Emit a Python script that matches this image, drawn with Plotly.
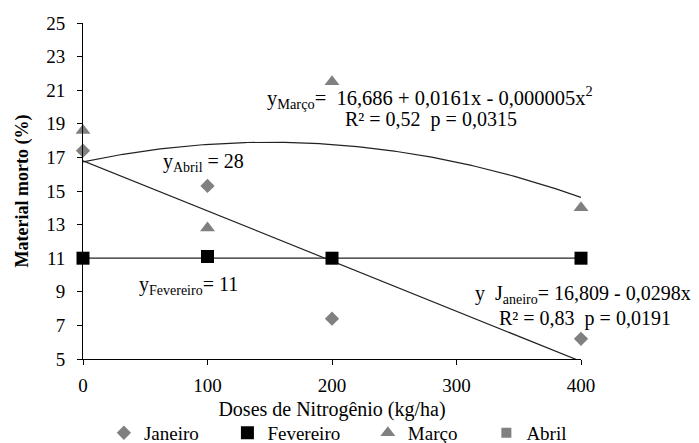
import numpy as np
import plotly.graph_objects as go

doses = [0, 100, 200, 400]
janeiro = [17.4, 15.3, 7.4, 6.2]
fevereiro = [11.0, 11.1, 11.0, 11.0]
marco = [18.6, 12.8, 21.5, 14.0]
abril = []
x_ticks = [0, 100, 200, 300, 400]
y_ticks = [5, 7, 9, 11, 13, 15, 17, 19, 21, 23, 25]

FONT = "Liberation Serif, Times New Roman, serif"
GRAY = "#808080"

xs = np.linspace(0, 400, 201)
jan_fit = np.polyval(np.polyfit(doses, janeiro, 1), xs)
mar_fit = np.polyval(np.polyfit(doses, marco, 2), xs)
fev_fit = np.full_like(xs, 11.0)

fig = go.Figure()
line_style = dict(color="#222222", width=1.2)
for yy in (mar_fit, jan_fit, fev_fit):
    fig.add_trace(go.Scatter(x=xs, y=yy, mode="lines", line=line_style,
                             showlegend=False, hoverinfo="skip"))

fig.add_trace(go.Scatter(x=doses, y=janeiro, mode="markers", name="Janeiro",
                         marker=dict(symbol="diamond", size=11, color=GRAY),
                         cliponaxis=False, legend="legend"))
fig.add_trace(go.Scatter(x=doses, y=fevereiro, mode="markers", name="Fevereiro",
                         marker=dict(symbol="square", size=13, color="black"),
                         cliponaxis=False, legend="legend2"))
fig.add_trace(go.Scatter(x=doses, y=marco, mode="markers", name="Março",
                         marker=dict(symbol="triangle-up", size=13, color=GRAY),
                         cliponaxis=False, legend="legend3"))
fig.add_trace(go.Scatter(x=[None], y=[None], mode="markers", name="Abril",
                         marker=dict(symbol="square", size=10, color=GRAY),
                         legend="legend4"))

# (x in paper fraction of plot width, y in data units)
notes = [
    (0.365, 20.54, "left", 20.5, "y<sub>Março</sub>=\u00a0 16,686 + 0,0161x - 0,000005x<sup>2</sup>"),
    (0.522, 19.23, "left", 20, "R² = 0,52\u00a0 p = 0,0315"),
    (0.157, 16.67, "left", 20, "y<sub>Abril</sub> = 28"),
    (0.108, 9.35, "left", 20, "y<sub>Fevereiro</sub>= 11"),
    (1.225, 8.82, "right", 20, "y\u00a0 J<sub>aneiro</sub>= 16,809 - 0,0298x"),
    (0.831, 7.44, "left", 20, "R² = 0,83\u00a0 p = 0,0191"),
]
for ax, ay, anchor, fs, txt in notes:
    fig.add_annotation(x=ax, y=ay, xref="paper", yref="y", text=txt, showarrow=False,
                       xanchor=anchor, yanchor="middle",
                       font=dict(family=FONT, size=fs, color="black"))

def leg(xpos):
    return dict(orientation="h", x=xpos, y=-0.22, xanchor="left", yanchor="middle",
                itemwidth=30, font=dict(family=FONT, size=19),
                bgcolor="rgba(0,0,0,0)", borderwidth=0)

fig.update_layout(
    width=699, height=443,
    margin=dict(l=75, r=126, t=15, b=92, autoexpand=False),
    plot_bgcolor="white", paper_bgcolor="white",
    font=dict(family=FONT, size=19, color="black"),
    showlegend=True,
    legend=leg(0.042),
    legend2=leg(0.29),
    legend3=leg(0.572),
    legend4=leg(0.81),
)
fig.update_xaxes(range=[0, 400], tickvals=x_ticks, showgrid=False, zeroline=False,
                 automargin=False,
                 showline=True, linecolor="black", linewidth=1,
                 ticks="outside", ticklen=5, tickcolor="black",
                 ticklabelstandoff=4,
                 tickfont=dict(family=FONT, size=19),
                 title=dict(text="Doses de Nitrogênio (kg/ha)", standoff=7,
                            font=dict(family=FONT, size=20)))
fig.update_yaxes(range=[5, 25], tickvals=y_ticks, showgrid=False, zeroline=False,
                 automargin=False,
                 showline=True, linecolor="black", linewidth=1,
                 ticks="outside", ticklen=5, tickcolor="black",
                 ticklabelstandoff=8,
                 tickfont=dict(family=FONT, size=19),
                 title=dict(text="<b>Material morto (%)</b>", standoff=12,
                            font=dict(family=FONT, size=18)))

fig.write_html("out.html")
